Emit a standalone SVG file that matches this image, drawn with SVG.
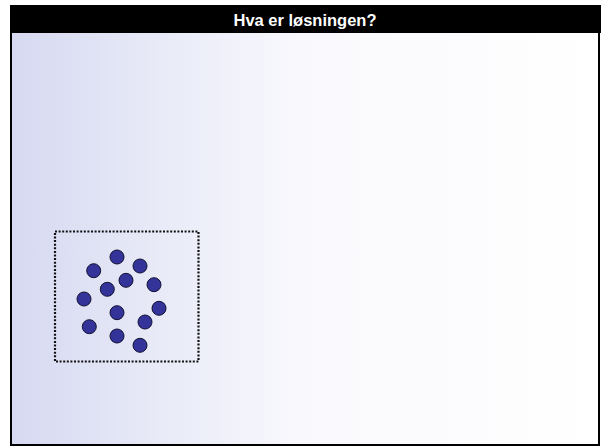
<svg xmlns="http://www.w3.org/2000/svg" width="602" height="447" viewBox="0 0 602 447">
<defs>
<linearGradient id="bg" x1="0" y1="0" x2="1" y2="0">
<stop offset="0" stop-color="#d6d9f1"/>
<stop offset="0.25" stop-color="#e8eaf7"/>
<stop offset="0.5" stop-color="#f9f9fd"/>
<stop offset="1" stop-color="#ffffff"/>
</linearGradient>
<style>
.dot{fill:#333399;stroke:#111133;stroke-width:1}
.title{font-family:"Liberation Sans",Arial,sans-serif;font-weight:bold;font-size:16.5px;fill:#ffffff}
</style>
</defs>
<rect x="0" y="0" width="602" height="447" fill="#ffffff"/>
<rect x="11" y="33" width="588" height="412" fill="url(#bg)"/>
<rect x="11" y="6" width="588" height="439" fill="none" stroke="#000" stroke-width="2"/>
<g id="header">
<rect x="10" y="5" width="591" height="28" fill="#000"/>
<text class="title" x="305" y="26" text-anchor="middle">Hva er løsningen?</text>
</g>
<g id="box">
<rect x="55" y="231.5" width="143.5" height="130" fill="none" stroke="#111" stroke-width="2.2" stroke-dasharray="2 1.6"/>
</g>
<g id="dots">
<circle class="dot" cx="117" cy="257" r="7"/>
<circle class="dot" cx="93.7" cy="270.7" r="7"/>
<circle class="dot" cx="140" cy="266" r="7"/>
<circle class="dot" cx="126" cy="280.3" r="7"/>
<circle class="dot" cx="154" cy="284.7" r="7"/>
<circle class="dot" cx="107.3" cy="289.3" r="7"/>
<circle class="dot" cx="84" cy="299" r="7"/>
<circle class="dot" cx="159" cy="308.3" r="7"/>
<circle class="dot" cx="117" cy="312.7" r="7"/>
<circle class="dot" cx="145" cy="322" r="7"/>
<circle class="dot" cx="89.3" cy="326.7" r="7"/>
<circle class="dot" cx="117" cy="336" r="7"/>
<circle class="dot" cx="140" cy="345.3" r="7"/>
</g>
</svg>
